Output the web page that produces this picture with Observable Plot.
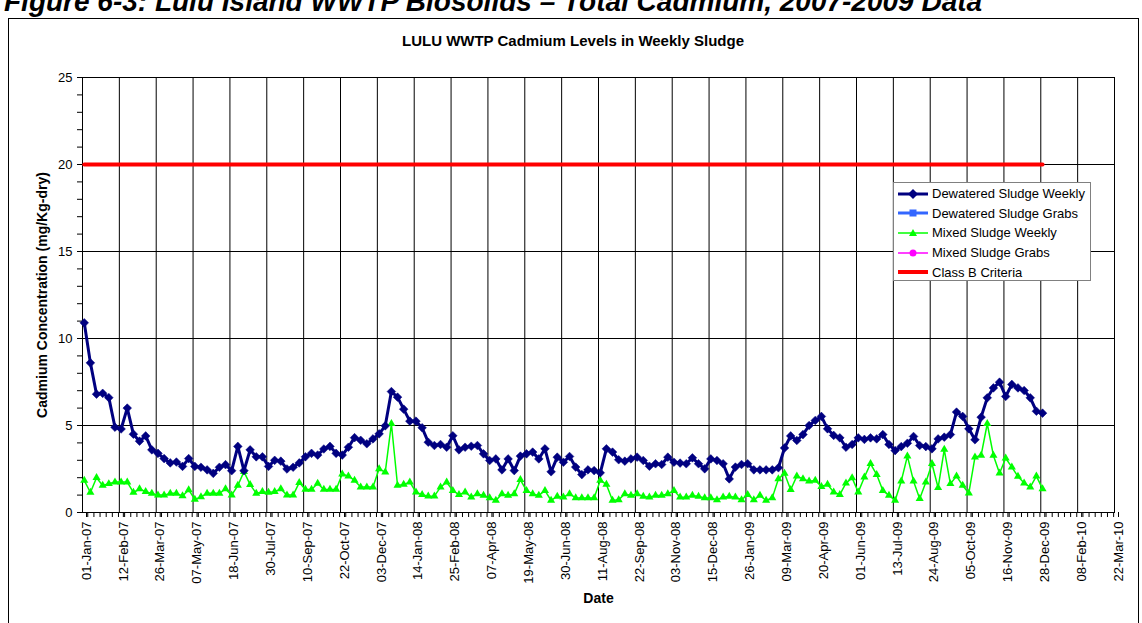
<!DOCTYPE html>
<html>
<head>
<meta charset="utf-8">
<script src="https://cdn.jsdelivr.net/npm/d3@7"></script>
<script src="https://cdn.jsdelivr.net/npm/@observablehq/plot@0.6"></script>
<style>
  body { margin: 0; background: #fff; }
  #wrap { position: relative; width: 1142px; height: 623px; overflow: hidden; background: #fff; font-family: "Liberation Sans", Arial, sans-serif; }
  .figtitle { position: absolute; left: 4px; top: -12px; font-size: 28px; font-weight: bold; font-style: italic; white-space: nowrap; line-height: 1; }
  .frame { position: absolute; left: 8px; top: 18px; width: 1131px; height: 640px; border: 1px solid #000; box-sizing: border-box; }
  .ctitle { position: absolute; left: 0; width: 1146px; top: 32px; text-align: center; font-size: 15px; font-weight: bold; }
  #chart { position: absolute; left: 0; top: 0; }
  #chart svg g[aria-label="y-axis label"] text, #chart svg g[aria-label="x-axis label"] text { font-weight: bold; font-size: 14px; }
  .legend { position: absolute; left: 893px; top: 182px; width: 198px; height: 99px; border: 1px solid #808080; box-sizing: border-box; background: #fff; padding-top: 1px; }
  .row { height: 19.6px; display: flex; align-items: center; font-size: 13px; white-space: nowrap; }
  .row svg { margin-left: 3px; margin-right: 3px; flex: none; }
</style>
</head>
<body>
<div id="wrap">
  <div class="figtitle">Figure 6-3: Lulu Island WWTP Biosolids – Total Cadmium, 2007-2009 Data</div>
  <div class="frame"></div>
  <div class="ctitle">LULU WWTP Cadmium Levels in Weekly Sludge</div>
  <div id="chart"></div>
  <div class="legend" id="legend"></div>
</div>
<script>
// ---- data ----
const startDate = "03-Jan-07";   // first weekly sample
const tickLabels = ["01-Jan-07","12-Feb-07","26-Mar-07","07-May-07","18-Jun-07","30-Jul-07","10-Sep-07","22-Oct-07","03-Dec-07",
  "14-Jan-08","25-Feb-08","07-Apr-08","19-May-08","30-Jun-08","11-Aug-08","22-Sep-08","03-Nov-08","15-Dec-08",
  "26-Jan-09","09-Mar-09","20-Apr-09","01-Jun-09","13-Jul-09","24-Aug-09","05-Oct-09","16-Nov-09","28-Dec-09",
  "08-Feb-10","22-Mar-10"];
const yTicks = [0, 5, 10, 15, 20, 25];

const dewateredWeekly = [
  10.9, 8.6, 6.8, 6.85, 6.6, 4.9, 4.8, 6.0, 4.5, 4.1,
  4.4, 3.6, 3.4, 3.1, 2.85, 2.9, 2.65, 3.1, 2.65, 2.6,
  2.45, 2.25, 2.6, 2.75, 2.4, 3.8, 2.4, 3.6, 3.2, 3.2,
  2.65, 3.0, 2.95, 2.5, 2.6, 2.85, 3.2, 3.4, 3.3, 3.65,
  3.8, 3.4, 3.3, 3.75, 4.3, 4.15, 3.95, 4.23, 4.52, 4.98,
  6.95, 6.63, 5.94, 5.25, 5.25, 4.87, 4.04, 3.85, 3.91, 3.75,
  4.41, 3.6, 3.75, 3.81, 3.85, 3.37, 2.99, 3.08, 2.45, 3.08,
  2.41, 3.24, 3.37, 3.47, 3.08, 3.66, 2.34, 3.18, 2.89, 3.22,
  2.61, 2.18, 2.45, 2.41, 2.28, 3.66, 3.47, 3.03, 2.95, 3.08,
  3.18, 2.99, 2.66, 2.80, 2.76, 3.18, 2.89, 2.84, 2.80, 3.14,
  2.80, 2.51, 3.08, 2.99, 2.80, 1.93, 2.61, 2.76, 2.80, 2.45,
  2.45, 2.45, 2.45, 2.57, 3.71, 4.40, 4.14, 4.48, 5.0, 5.29,
  5.52, 4.81, 4.43, 4.29, 3.75, 3.91, 4.29, 4.20, 4.29, 4.23,
  4.48, 3.91, 3.56, 3.79, 3.98, 4.37, 3.85, 3.79, 3.66, 4.23,
  4.33, 4.48, 5.77, 5.52, 4.81, 4.18, 5.48, 6.59, 7.16, 7.49,
  6.67, 7.36, 7.16, 7.01, 6.59, 5.82, 5.71
];
const mixedWeekly = [
  1.85, 1.15, 2.0, 1.55, 1.65, 1.75, 1.75, 1.75, 1.15, 1.35,
  1.2, 1.1, 1.0, 1.0, 1.1, 1.1, 0.95, 1.3, 0.75, 0.9,
  1.1, 1.1, 1.1, 1.35, 1.0, 1.55, 2.35, 1.6, 1.1, 1.2,
  1.15, 1.2, 1.35, 1.0, 1.0, 1.72, 1.32, 1.32, 1.67, 1.32,
  1.32, 1.32, 2.21, 2.09, 1.84, 1.46, 1.46, 1.46, 2.51, 2.32,
  5.10, 1.55, 1.61, 1.74, 1.17, 1.02, 0.94, 0.94, 1.46, 1.74,
  1.26, 1.02, 1.17, 0.88, 1.07, 0.98, 0.84, 0.69, 1.07, 0.98,
  1.07, 1.88, 1.26, 1.07, 0.98, 1.26, 0.69, 0.92, 0.88, 1.07,
  0.84, 0.84, 0.84, 0.84, 1.84, 1.61, 0.69, 0.73, 1.07, 0.98,
  1.07, 0.92, 0.88, 0.98, 0.98, 1.07, 1.26, 0.88, 0.88, 0.98,
  0.92, 0.84, 0.84, 0.73, 0.88, 0.92, 0.88, 0.73, 1.03, 0.73,
  0.98, 0.69, 0.84, 1.93, 2.24, 1.31, 2.09, 1.93, 1.80, 1.84,
  1.49, 1.61, 1.17, 1.03, 1.69, 1.99, 1.17, 2.03, 2.80, 2.18,
  1.26, 0.98, 0.69, 1.80, 3.24, 1.80, 0.79, 1.74, 2.80, 1.42,
  3.62, 1.65, 2.09, 1.55, 1.11, 3.18, 3.28, 5.10, 3.28, 2.26,
  3.12, 2.61, 2.07, 1.69, 1.46, 2.09, 1.36
];
const dewateredGrabs = [];
const mixedGrabs = [];
const classBCriteria = 20;
const classBRange = ["03-Jan-07", "30-Dec-09"];

const seriesNames = ["Dewatered Sludge Weekly", "Dewatered Sludge Grabs", "Mixed Sludge Weekly", "Mixed Sludge Grabs", "Class B Criteria"];
const yTitle = "Cadmium Concentration (mg/Kg-dry)";
const xTitle = "Date";

// ---- build ----
const parse = d3.utcParse("%d-%b-%y");
const fmt = d3.utcFormat("%d-%b-%y");
const t0 = parse(startDate);
const tickDates = tickLabels.map(parse);
const weekDates = d3.utcWeek.range(tickDates[0], d3.utcDay.offset(tickDates[tickDates.length - 1], 1));
const dew = dewateredWeekly.map((v, i) => ({date: d3.utcDay.offset(t0, 7 * i), value: v}));
const mix = mixedWeekly.map((v, i) => ({date: d3.utcDay.offset(t0, 7 * i), value: v}));
const classB = classBRange.map(s => ({date: parse(s), value: classBCriteria}));

const navy = "#000080", lime = "#00ff00", red = "#ff0000", blue = "#3366ff", magenta = "#ff00ff";

const chart = Plot.plot({
  width: 1142, height: 623,
  marginLeft: 82, marginRight: 28, marginTop: 77, marginBottom: 111,
  style: {fontFamily: "'Liberation Sans', Arial, sans-serif", fontSize: "13px", background: "transparent", color: "#000"},
  x: {type: "utc", domain: [tickDates[0], tickDates[tickDates.length - 1]]},
  y: {domain: [0, 25]},
  marks: [
    Plot.gridY(yTicks.slice(1), {stroke: "#000", strokeOpacity: 1}),
    Plot.gridX(tickDates, {stroke: "#000", strokeOpacity: 1}),
    Plot.frame({stroke: "#000"}),
    Plot.axisY(d3.range(0, 26), {tickSize: 5, tickFormat: () => "", label: null}),
    Plot.axisY(yTicks, {tickSize: 5, tickPadding: 5, label: yTitle, labelAnchor: "center", labelArrow: "none", labelOffset: 45}),
    Plot.axisX(weekDates, {tickSize: 5, tickFormat: () => "", label: null}),
    Plot.axisX(tickDates, {tickSize: 5, tickPadding: 4, tickRotate: -90, dx: 4, tickFormat: fmt, label: xTitle, labelAnchor: "center", labelArrow: "none", labelOffset: 90}),
    Plot.line(classB, {x: "date", y: "value", stroke: red, strokeWidth: 4}),
    Plot.line(mix, {x: "date", y: "value", stroke: lime, strokeWidth: 1.5}),
    Plot.dot(mix, {x: "date", y: "value", symbol: "triangle", r: 3, fill: lime, stroke: "none"}),
    Plot.line(dew, {x: "date", y: "value", stroke: navy, strokeWidth: 3}),
    Plot.dot(dew, {x: "date", y: "value", symbol: "diamond2", r: 3.9, fill: navy, stroke: navy, strokeWidth: 0.5}),
    Plot.dot(dewateredGrabs, {x: "date", y: "value", symbol: "square", r: 3, fill: blue}),
    Plot.dot(mixedGrabs, {x: "date", y: "value", symbol: "circle", r: 3, fill: magenta})
  ]
});
document.getElementById("chart").appendChild(chart);

// ---- legend ----
const swatches = [
  `<line x1="1" x2="31" y1="10" y2="10" stroke="${navy}" stroke-width="3"/><path d="M16 5 L21 10 L16 15 L11 10 Z" fill="${navy}"/>`,
  `<line x1="1" x2="31" y1="10" y2="10" stroke="${blue}" stroke-width="3"/><rect x="12.5" y="6.5" width="7" height="7" fill="${blue}"/>`,
  `<line x1="1" x2="31" y1="10" y2="10" stroke="${lime}" stroke-width="1.5"/><path d="M16 6 L20 13 L12 13 Z" fill="${lime}"/>`,
  `<line x1="1" x2="31" y1="10" y2="10" stroke="${magenta}" stroke-width="1.5"/><circle cx="16" cy="10" r="3.5" fill="${magenta}"/>`,
  `<line x1="1" x2="31" y1="10" y2="10" stroke="${red}" stroke-width="4"/>`
];
document.getElementById("legend").innerHTML = seriesNames.map((n, i) =>
  `<div class="row"><svg width="32" height="20">${swatches[i]}</svg><span>${n}</span></div>`).join("");
</script>
</body>
</html>
